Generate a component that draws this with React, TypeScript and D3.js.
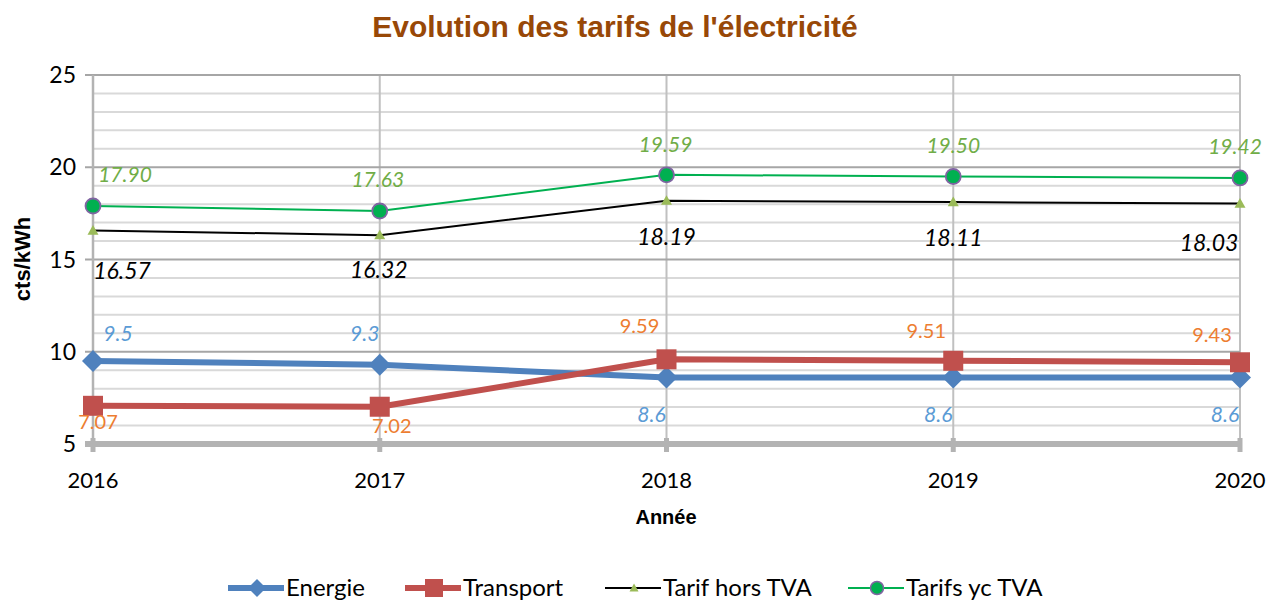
import React from "react";
import * as d3 from "d3";

const years = ["2016", "2017", "2018", "2019", "2020"];
const energie = [9.5, 9.3, 8.6, 8.6, 8.6];
const transport = [7.07, 7.02, 9.59, 9.51, 9.43];
const tarifHorsTVA = [16.57, 16.32, 18.19, 18.11, 18.03];
const tarifsYcTVA = [17.9, 17.63, 19.59, 19.5, 19.42];
const energieLabels = ["9.5", "9.3", "8.6", "8.6", "8.6"];
const transportLabels = ["7.07", "7.02", "9.59", "9.51", "9.43"];
const horsLabels = ["16.57", "16.32", "18.19", "18.11", "18.03"];
const ycLabels = ["17.90", "17.63", "19.59", "19.50", "19.42"];
const yTicks = [5, 10, 15, 20, 25];

// label offsets (layout, px)
const energieOff = [[25, -27], [-15, -31], [-15, 37], [-15, 37], [-15, 37]];
const transportOff = [[5, 16], [12, 19], [-27, -33], [-27, -30], [-28, -27]];
const horsOff = [[29, 40], [-1, 35], [0, 36], [0, 36], [-31, 39]];
const ycOff = [[32, -31], [-2, -31], [-1, -30], [0, -31], [-5, -31]];

const W = 1276, H = 601;
const x0 = 93, x1 = 1240, yTop = 75, yBot = 444;

export default function App() {
  const x = d3.scalePoint<string>().domain(years).range([x0, x1]);
  const y = d3.scaleLinear().domain([5, 25]).range([yBot, yTop]);
  const line = d3.line<number>().x((_, i) => x(years[i])!).y((v) => y(v));
  const minor = d3.range(6, 25, 1).filter((v) => v % 5 !== 0);
  const font = "Lato, 'Open Sans', sans-serif";
  const arial = "'Liberation Sans', Arial, sans-serif";

  const diamond = (cx: number, cy: number, r: number) =>
    `M${cx},${cy - r}L${cx + r},${cy}L${cx},${cy + r}L${cx - r},${cy}Z`;
  const tri = (cx: number, cy: number, r: number) =>
    `M${cx},${cy - r}L${cx + r},${cy + r * 0.75}L${cx - r},${cy + r * 0.75}Z`;

  const labels = (
    vals: number[],
    texts: string[],
    off: number[][],
    color: string,
    size: number,
    italic: boolean
  ) =>
    vals.map((v, i) => (
      <text
        key={i}
        x={x(years[i])! + off[i][0]}
        y={y(v) + off[i][1] + size * 0.35}
        textAnchor="middle"
        fontStyle={italic ? "italic" : "normal"}
        fontFamily={font}
        fontSize={size}
        fill={color}
      >
        {texts[i]}
      </text>
    ));

  const legendItems = [
    { name: "Energie", x: 228, color: "#4f81bd", w: 6, marker: "diamond" },
    { name: "Transport", x: 405, color: "#c0504d", w: 6, marker: "square" },
    { name: "Tarif hors TVA", x: 605, color: "#000", w: 2, marker: "tri" },
    { name: "Tarifs yc TVA", x: 848, color: "#00b050", w: 2, marker: "circle" },
  ];

  return (
    <svg width={W} height={H} style={{ position: "absolute", left: 0, top: 0 }}>
      <rect width={W} height={H} fill="#fff" />
      <text x={615} y={37} textAnchor="middle" fontFamily={arial} fontWeight="bold" fontSize={30} fill="#984807">
        Evolution des tarifs de l'électricité
      </text>
      {/* minor gridlines */}
      {minor.map((v) => (
        <line key={v} x1={x0} x2={x1} y1={y(v)} y2={y(v)} stroke="#d9d9d9" strokeWidth={2} />
      ))}
      {/* vertical gridlines */}
      {years.map((yr) => (
        <line key={yr} x1={x(yr)} x2={x(yr)} y1={yTop} y2={yBot} stroke="#c0c0c0" strokeWidth={2} />
      ))}
      {/* major gridlines */}
      {yTicks.filter((t) => t !== 5).map((t) => (
        <line key={t} x1={x0 - 8} x2={x1} y1={y(t)} y2={y(t)} stroke="#a6a6a6" strokeWidth={2} />
      ))}
      {/* y axis */}
      <line x1={x0} x2={x0} y1={yTop} y2={yBot} stroke="#b3b3b3" strokeWidth={2.5} />
      {yTicks.map((t) => (
        <text key={t} x={76} y={y(t) + 8} textAnchor="end" fontFamily={font} fontSize={23} fill="#000">
          {t}
        </text>
      ))}
      {/* x axis */}
      <line x1={x0 - 8} x2={x1} y1={yBot} y2={yBot} stroke="#b3b3b3" strokeWidth={6} />
      {years.map((yr) => (
        <line key={yr} x1={x(yr)} x2={x(yr)} y1={yBot - 6} y2={yBot + 8} stroke="#b3b3b3" strokeWidth={5} />
      ))}
      {years.map((yr) => (
        <text key={yr} x={x(yr)} y={488} textAnchor="middle" fontFamily={font} fontSize={22} fill="#000">
          {yr}
        </text>
      ))}
      <text x={666} y={524} textAnchor="middle" fontFamily={arial} fontWeight="bold" fontSize={20}>
        Année
      </text>
      <text
        transform={`translate(30,259) rotate(-90)`}
        textAnchor="middle"
        fontFamily={arial}
        fontWeight="bold"
        fontSize={22}
      >
        cts/kWh
      </text>

      {/* series */}
      <path d={line(tarifsYcTVA)!} fill="none" stroke="#00b050" strokeWidth={2} />
      <path d={line(tarifHorsTVA)!} fill="none" stroke="#000" strokeWidth={2} />
      <path d={line(energie)!} fill="none" stroke="#4f81bd" strokeWidth={6} strokeLinejoin="round" />
      <path d={line(transport)!} fill="none" stroke="#c0504d" strokeWidth={6} strokeLinejoin="round" />
      {energie.map((v, i) => (
        <path key={i} d={diamond(x(years[i])!, y(v), 11)} fill="#4f81bd" />
      ))}
      {transport.map((v, i) => (
        <rect key={i} x={x(years[i])! - 10} y={y(v) - 10} width={20} height={20} fill="#c0504d" />
      ))}
      {tarifHorsTVA.map((v, i) => (
        <path key={i} d={tri(x(years[i])!, y(v), 5.5)} fill="#9bbb59" />
      ))}
      {tarifsYcTVA.map((v, i) => (
        <circle key={i} cx={x(years[i])} cy={y(v)} r={7.5} fill="#00b050" stroke="#8064a2" strokeWidth={1.8} />
      ))}

      {labels(tarifsYcTVA, ycLabels, ycOff, "#70ad47", 21, true)}
      {labels(tarifHorsTVA, horsLabels, horsOff, "#000", 23, true)}
      {labels(energie, energieLabels, energieOff, "#5b9bd5", 21, true)}
      {labels(transport, transportLabels, transportOff, "#ed7d31", 20, false)}

      {/* legend */}
      {legendItems.map((it) => {
        const cx = it.x + 29;
        const cy = 588;
        return (
          <g key={it.name}>
            <line x1={it.x} x2={it.x + 56} y1={cy} y2={cy} stroke={it.color} strokeWidth={it.w} />
            {it.marker === "diamond" && <path d={diamond(cx, cy, 9)} fill="#4f81bd" />}
            {it.marker === "square" && <rect x={cx - 9} y={cy - 9} width={18} height={18} fill="#c0504d" />}
            {it.marker === "tri" && <path d={tri(cx, cy, 4.5)} fill="#9bbb59" />}
            {it.marker === "circle" && (
              <circle cx={cx} cy={cy} r={6.5} fill="#00b050" stroke="#8064a2" strokeWidth={1.5} />
            )}
            <text x={it.x + 58} y={cy + 8} fontFamily={font} fontSize={24} fill="#000">
              {it.name}
            </text>
          </g>
        );
      })}
    </svg>
  );
}
